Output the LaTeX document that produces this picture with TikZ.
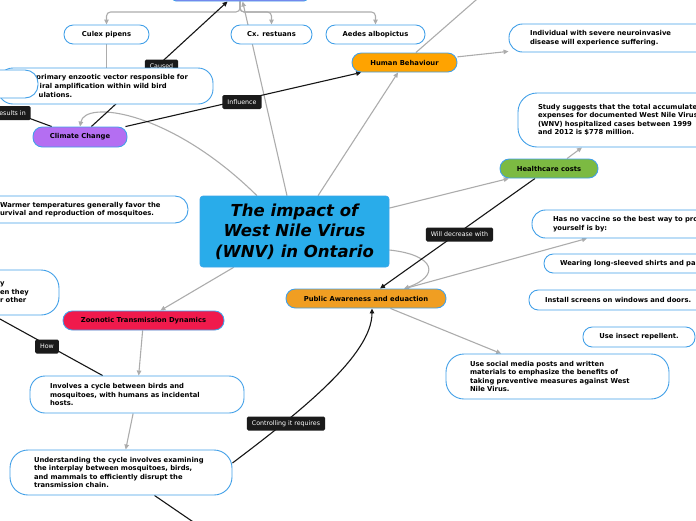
\documentclass[tikz,border=0pt]{standalone}
\usepackage{fontspec}
\setmainfont{DejaVu Sans}
\usetikzlibrary{arrows.meta}
\definecolor{nb}{RGB}{66,160,232}
\definecolor{gl}{RGB}{172,172,172}
\definecolor{bl}{RGB}{22,22,22}
\definecolor{cenc}{RGB}{41,172,234}
\definecolor{topc}{RGB}{140,125,240}
\definecolor{ccc}{RGB}{180,110,242}
\definecolor{hbc}{RGB}{255,163,0}
\definecolor{hcc}{RGB}{124,186,66}
\definecolor{zooc}{RGB}{240,26,76}
\definecolor{pac}{RGB}{240,158,34}
\definecolor{labc}{RGB}{26,26,26}
\newcommand\tfont{\fontsize{6.8}{8.6}\selectfont\bfseries}
\newcommand\lfont{\fontsize{6.3}{7}\selectfont}
\newcommand\hfont{\fontsize{16.5}{20.5}\selectfont\bfseries\itshape}
\pgfdeclarelayer{bg}\pgfdeclarelayer{mid}\pgfsetlayers{bg,mid,main}
\tikzset{
  box/.style={draw=nb, line width=0.9pt, fill=white, inner sep=0pt, font=\tfont, text=black},
  pill/.style={box, rounded corners=9.3pt, align=center},
  multibox/.style={box, rounded corners=#1, align=left},
  glink/.style={draw=gl, line width=1.1pt},
  garrow/.style={glink, -{Triangle[length=5pt,width=4.5pt]}},
  blink/.style={draw=bl, line width=1.1pt},
  barrow/.style={blink, -{Triangle[length=5pt,width=4.5pt]}},
  lab/.style={fill=labc, text=white, font=\lfont, rounded corners=1.5pt, inner xsep=5pt, inner ysep=0pt, minimum height=14pt}
}
\begin{document}
\begin{tikzpicture}[x=1pt,y=-1pt]
\useasboundingbox (0,0) rectangle (696,520);
% ---------- nodes ----------
\node[box, fill=topc, rounded corners=4pt, minimum width=136pt, minimum height=22pt] (top) at (240,-10) {};
\node[pill, minimum width=85pt, minimum height=19pt] (cul) at (106.5,34.5) {Culex pipens};
\node[pill, minimum width=81pt, minimum height=19pt] (cxr) at (271.5,34.5) {Cx. restuans};
\node[pill, minimum width=99pt, minimum height=19pt] (aed) at (375.5,34.5) {Aedes albopictus};
\node[box, rounded corners=15pt, minimum width=215pt, minimum height=36pt] (prim) at (105.5,86) {};
\node[font=\tfont, align=left, anchor=west, inner sep=0pt] (primtxt) at (36,86) {primary enzootic vector responsible for\\\hspace*{3.5pt}iral amplification within wild bird\\\hspace*{2.5pt}ulations.};
\node[box, rounded corners=13pt, minimum width=78pt, minimum height=28pt] (hid) at (-1,84) {};
\node[pill, fill=ccc, minimum width=94pt, minimum height=20pt] (cc) at (80,137) {Climate Change};
\node[multibox=13pt, minimum width=218pt, minimum height=27pt, text width=158pt] (warm) at (79,209.5) {\mbox{Warmer temperatures generally favor the}\\\mbox{urvival and reproduction of mosquitoes.}};
\node[multibox=18pt, minimum width=84pt, minimum height=45pt, text width=34pt] (lft) at (17,292.5) {\mbox{y}\\\mbox{en they}\\\mbox{r other}};
\node[draw=nb!70!cenc, line width=0.6pt, fill=cenc, rounded corners=3pt, minimum width=189pt, minimum height=71pt, inner sep=0pt, font=\hfont, align=center] (cen) at (294.5,231.5) {The impact of\\West Nile Virus\\(WNV) in Ontario};
\node[pill, fill=zooc, minimum width=161pt, minimum height=19pt] (zoo) at (143.5,320.5) {Zoonotic Transmission Dynamics};
\node[multibox=15pt, minimum width=214pt, minimum height=37pt, text width=174pt] (inv) at (137,394.5) {\mbox{Involves a cycle between birds and}\\\mbox{mosquitoes, with humans as incidental}\\\mbox{hosts.}};
\node[multibox=18pt, minimum width=222pt, minimum height=45pt, text width=174pt] (und) at (121,472.5) {\mbox{Understanding the cycle involves examining}\\\mbox{the interplay between mosquitoes, birds,}\\\mbox{and mammals to efficiently disrupt the}\\\mbox{transmission chain.}};
\node[pill, fill=hbc, minimum width=105pt, minimum height=19pt] (hb) at (404.5,62.5) {Human Behaviour};
\node[multibox=13.5pt, minimum width=251pt, minimum height=28pt, text width=209pt] (ind) at (634.5,38) {\mbox{Individual with severe neuroinvasive}\\\mbox{disease will experience suffering.}};
\node[multibox=19pt, minimum width=272pt, minimum height=54pt, text width=232pt] (study) at (654,120) {\mbox{Study suggests that the total accumulated}\\\mbox{expenses for documented West Nile Virus}\\\mbox{(WNV) hospitalized cases between 1999}\\\mbox{and 2012 is \$778 million.}};
\node[pill, fill=hcc, minimum width=98pt, minimum height=19pt] (hc) at (549,168.5) {Healthcare costs};
\node[multibox=13.5pt, minimum width=248pt, minimum height=28pt, text width=206pt] (vac) at (656,224) {\mbox{Has no vaccine so the best way to protect}\\\mbox{yourself is by:}};
\node[multibox=9.3pt, minimum width=216pt, minimum height=19pt, text width=184pt] (wear) at (652,263.5) {\mbox{Wearing long-sleeved shirts and pants.}};
\node[multibox=9.3pt, minimum width=211pt, minimum height=20pt, text width=179pt] (scr) at (634.5,300) {\mbox{Install screens on windows and doors.}};
\node[pill, minimum width=112pt, minimum height=20pt] (rep) at (639,337) {Use insect repellent.};
\node[pill, fill=pac, minimum width=160pt, minimum height=19pt] (pa) at (366,298.5) {Public Awareness and eduaction};
\node[multibox=18pt, minimum width=223pt, minimum height=45pt, text width=175pt] (soc) at (557.5,376.5) {\mbox{Use social media posts and written}\\\mbox{materials to emphasize the benefits of}\\\mbox{taking preventive measures against West}\\\mbox{Nile Virus.}};
% ---------- free ends ----------
\coordinate (tbar) at (240,12);
\coordinate (hbup) at (500,-21);
\coordinate (resend) at (-40,92.7);
\coordinate (howend) at (-40,297);
\coordinate (undb) at (221,541);
% ---------- connectors ----------
\begin{pgfonlayer}{bg}
\draw[garrow, rounded corners=4pt] (top.south) |- (cul.north |- tbar) -- (cul.north);
\draw[garrow, rounded corners=4pt] (top.south) |- (cxr.north |- tbar) -- (cxr.north);
\draw[garrow, rounded corners=4pt] (top.south) |- (aed.north |- tbar) -- (aed.north);
\draw[glink] (cul) -- (cul.south |- prim.north);
\draw[garrow] ([xshift=-7.5pt]cen.north) -- (top);
\draw[garrow] ([xshift=-37.5pt]cen.north) .. controls (170,110) and (85,100) .. (cc.north);
\draw[garrow] ([xshift=23.5pt]cen.north) -- (hb);
\draw[glink] (hb) -- (hbup);
\draw[garrow] (hb) -- (ind);
\draw[garrow] (cen) -- (hc);
\draw[garrow] ([xshift=18pt]hc.north) -- ([xshift=-72pt]study.south);
\draw[garrow] ([yshift=-18.5pt]cen.east) .. controls (436,255) and (440,276) .. ([xshift=38pt]pa.north);
\draw[garrow] ([xshift=39pt]pa.north) -- ([xshift=-69pt]vac.south);
\draw[garrow] (pa) -- (soc);
\draw[garrow] (cen) -- (zoo);
\draw[garrow] (zoo) -- (inv);
\draw[garrow] (inv) -- (und);
\draw[barrow] (cc) -- (top);
\draw[blink] (cc) -- (resend);
\draw[barrow] (cc) -- (hb);
\draw[barrow] (hc) -- (pa);
\draw[barrow] ([yshift=9.5pt]und.east) .. controls (300,412) and (372,355) .. ([xshift=6pt]pa.south);
\draw[blink] (inv) -- (howend);
\draw[blink] (undb) -- (und);
\end{pgfonlayer}
% ---------- labels ----------
\begin{pgfonlayer}{mid}
\node[lab] (lcaused) at (161.5,66.5) {Caused};
\node[lab] (lres) at (10.5,113) {Results in};
\node[lab] (linf) at (242,102) {Influence};
\node[lab] (lhow) at (47,346.5) {How};
\node[lab] (lctrl) at (286,423.5) {Controlling it requires};
\node[lab] (ldec) at (459.5,234.5) {Will decrease with};
\end{pgfonlayer}
\end{tikzpicture}
\end{document}
